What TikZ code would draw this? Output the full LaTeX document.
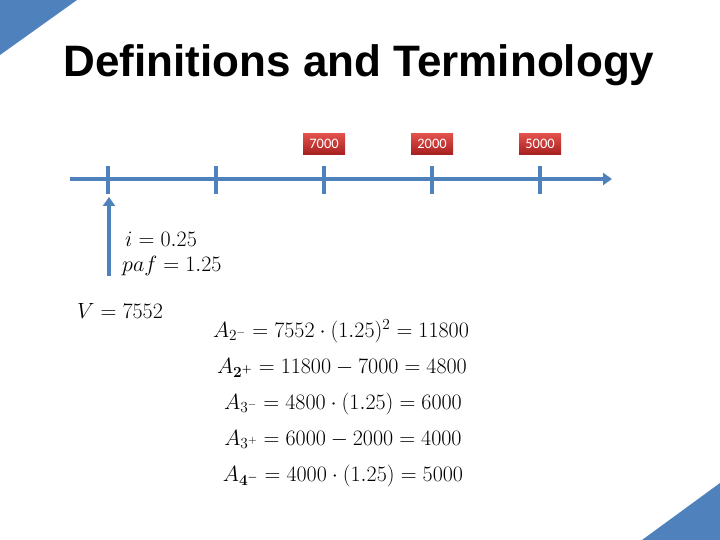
\RequirePackage{fix-cm}
\documentclass[tikz,border=0pt]{standalone}
\usepackage{amsmath,amssymb}
\usepackage{fontspec}
\setmainfont{Liberation Sans}
\newfontfamily\boxfont{Carlito}
\usetikzlibrary{arrows.meta,positioning}
\definecolor{slideblue}{RGB}{79,129,189}
\definecolor{cashtop}{RGB}{226,80,74}
\definecolor{cashbot}{RGB}{166,32,32}

\tikzset{
  axisline/.style={slideblue, line width=3.5pt},
  cash/.style={shading=axis, top color=cashtop, bottom color=cashbot, text=white,
    font=\boxfont\fontsize{14.5}{16}\selectfont, minimum width=42pt, minimum height=21pt, inner sep=0pt},
  eq/.style={font=\fontsize{22}{24}\selectfont, inner sep=0pt},
}

\begin{document}
\begin{tikzpicture}[x=1pt,y=-1pt]
  \useasboundingbox (0,0) rectangle (720,540);
  % corner triangles
  \fill[slideblue] (0,0) -- (77,0) -- (0,55) -- cycle;
  \fill[slideblue] (720,483) -- (720,540) -- (642,540) -- cycle;

  \node[font=\bfseries\fontsize{44}{50}\selectfont, anchor=base] (title) at (359,77) {Definitions and Terminology};

  % time line
  \coordinate (start) at (70,179);
  \coordinate (end) at (612,179);
  \draw[axisline, -{Triangle[length=9pt,width=12pt]}] (start) -- (end);
  \foreach \k in {0,...,4} {
    \coordinate (t\k) at (108+108*\k,179);
    \coordinate (top\k) at ([yshift=13pt]t\k);
    \coordinate (bot\k) at ([yshift=-15pt]t\k);
    \draw[axisline] (bot\k) -- (top\k);
  }

  % payments
  \node[cash, above=11pt of top2] (pay2) {7000};
  \node[cash, above=11pt of top3] (pay3) {2000};
  \node[cash, above=11pt of top4] (pay4) {5000};

  % deposit
  \coordinate (vfoot) at (109,276);
  \coordinate (vtip) at (109,197);
  \draw[axisline, -{Triangle[length=9pt,width=12pt]}] (vfoot) -- (vtip);

  \node[eq, anchor=base west] (rate) at (125,246) {$i = 0.25$};
  \node[eq, anchor=base west] (paf) at (122,271) {$paf = 1.25$};
  \node[eq, anchor=base west] (val) at (77,318) {$V = 7552$};

  \node[eq, anchor=base] (a2m) at (341,337) {$A_{2^-} = 7552\cdot(1.25)^2 = 11800$};
  \node[eq, anchor=base] (a2p) at (342,373) {$A_{\boldsymbol{2^+}} = 11800 - 7000 = 4800$};
  \node[eq, anchor=base] (a3m) at (343,409) {$A_{3^-} = 4800\cdot(1.25) = 6000$};
  \node[eq, anchor=base] (a3p) at (343,445) {$A_{3^+} = 6000 - 2000 = 4000$};
  \node[eq, anchor=base] (a4m) at (343,481) {$A_{\boldsymbol{4^-}} = 4000\cdot(1.25) = 5000$};
\end{tikzpicture}
\end{document}
